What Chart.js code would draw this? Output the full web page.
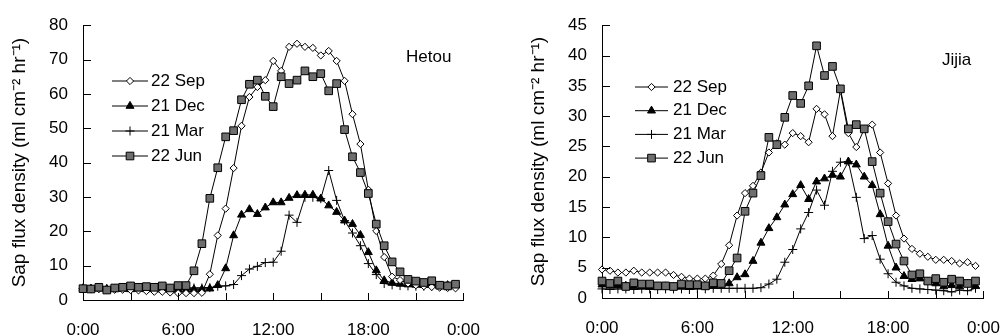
<!DOCTYPE html>
<html>
<head>
<meta charset="utf-8">
<script src="https://cdn.jsdelivr.net/npm/chart.js@4/dist/chart.umd.min.js"></script>
<style>
  html, body { margin: 0; padding: 0; background: #fff; }
  #wrap { position: relative; width: 1008px; height: 336px; overflow: hidden; }
  .panel { position: absolute; top: 0; height: 336px; }
  #left { left: 0; width: 500px; }
  #right { left: 490px; width: 530px; }
</style>
</head>
<body>
<div id="wrap">
  <div class="panel" id="left"><canvas id="hetou"></canvas></div>
  <div class="panel" id="right"><canvas id="jijia"></canvas></div>
</div>
<script>
// half-hour readings, 0:00 .. 23:30
var hours = [0, 0.5, 1, 1.5, 2, 2.5, 3, 3.5, 4, 4.5, 5, 5.5, 6, 6.5, 7, 7.5, 8, 8.5, 9, 9.5, 10, 10.5, 11, 11.5,
             12, 12.5, 13, 13.5, 14, 14.5, 15, 15.5, 16, 16.5, 17, 17.5, 18, 18.5, 19, 19.5, 20, 20.5, 21, 21.5, 22, 22.5, 23, 23.5];
var seriesNames = ['22 Sep', '21 Dec', '21 Mar', '22 Jun'];
var xTickLabels = ['0:00', '6:00', '12:00', '18:00', '0:00'];

// Hetou site
var hetouSep = [3.3, 3.3, 3.2, 3.1, 3.0, 3.0, 2.9, 2.8, 2.6, 2.4, 2.4, 2.2, 2.0, 2.0, 2.0, 2.1,
                7.5, 18.8, 26.6, 38.4, 50.7, 59.1, 62.0, 64.0, 69.6, 66.7, 73.7, 74.6, 73.7, 73.4, 71.2, 72.5,
                69.6, 63.8, 54.1, 45.4, 32.1, 20.1, 12.5, 6.8, 5.8, 4.8, 4.3, 4.0, 3.8, 3.6, 3.5, 3.4];
var hetouDec = [3.4, 3.3, 3.3, 3.2, 3.3, 3.2, 3.1, 3.2, 3.1, 3.2, 3.1, 3.0, 3.1, 3.0, 3.1, 3.1,
                3.3, 4.3, 9.2, 18.8, 24.8, 26.4, 25.0, 26.9, 28.4, 28.4, 29.7, 30.5, 30.6, 30.6, 29.5, 27.5,
                25.6, 23.1, 22.1, 18.9, 13.9, 8.6, 5.7, 5.0, 4.7, 4.5, 4.4, 4.3, 4.3, 4.2, 4.3, 4.2];
var hetouMar = [3.3, 3.3, 3.4, 3.2, 3.3, 3.3, 3.2, 3.3, 3.2, 3.3, 3.3, 3.2, 3.4, 3.4, 3.5, 3.5,
                3.6, 4.0, 4.1, 4.5, 7.1, 9.0, 9.8, 10.9, 11.0, 14.2, 24.7, 22.6, 29.9, 29.9, 29.5, 37.7,
                29.0, 23.1, 19.5, 15.8, 10.6, 7.4, 4.8, 4.4, 4.2, 4.1, 4.0, 4.0, 4.0, 3.9, 3.9, 3.9];
var hetouJun = [3.3, 3.2, 3.7, 2.9, 3.5, 3.7, 4.1, 3.7, 3.9, 3.7, 4.1, 3.5, 4.2, 4.2, 8.5, 16.4,
                29.6, 38.5, 47.5, 49.3, 58.3, 62.8, 64.0, 59.3, 56.3, 65.0, 63.0, 64.0, 66.7, 65.0, 65.9, 60.9,
                63.0, 49.6, 41.7, 37.1, 31.0, 22.1, 15.8, 11.1, 8.2, 6.0, 5.5, 5.1, 5.6, 4.3, 4.1, 4.6];

// Jijia site
var jijiaSep = [4.7, 4.5, 4.2, 4.2, 4.5, 4.2, 4.2, 4.2, 4.2, 3.8, 3.5, 3.2, 3.2, 3.2, 3.7, 5.6,
                8.7, 13.6, 17.3, 18.5, 20.7, 24.0, 25.5, 25.3, 27.2, 26.7, 25.7, 31.2, 30.3, 26.7, 34.2, 27.2,
                24.9, 27.9, 28.6, 24.0, 18.9, 13.6, 9.8, 8.1, 7.3, 6.8, 6.3, 6.3, 6.1, 5.7, 5.9, 5.3];
var jijiaDec = [2.2, 2.0, 2.1, 2.0, 1.9, 1.9, 1.8, 1.8, 1.9, 1.8, 1.9, 1.9, 2.0, 2.0, 2.1, 2.2,
                2.4, 3.4, 3.9, 6.1, 9.1, 11.5, 13.3, 15.4, 17.1, 18.6, 16.3, 19.2, 19.7, 20.3, 20.0, 22.5,
                22.0, 20.0, 18.6, 13.8, 8.6, 5.0, 3.6, 3.1, 3.2, 2.7, 2.4, 1.9, 2.1, 1.9, 2.3, 2.0];
var jijiaMar = [1.5, 1.4, 1.5, 1.5, 1.4, 1.5, 1.5, 1.4, 1.5, 1.5, 1.5, 1.4, 1.5, 1.5, 1.6, 1.6,
                1.6, 1.6, 1.6, 1.6, 1.7, 2.3, 3.1, 5.9, 8.0, 11.4, 14.1, 17.8, 15.3, 20.9, 22.4, 22.5,
                16.6, 9.8, 10.3, 6.4, 4.0, 2.6, 2.0, 1.6, 1.5, 1.4, 1.3, 1.2, 1.0, 1.3, 1.2, 1.6];
var jijiaJun = [2.8, 2.4, 2.8, 1.9, 2.5, 2.3, 2.3, 2.0, 2.0, 1.9, 2.3, 2.2, 2.2, 2.0, 2.5, 2.4,
                4.5, 6.6, 14.3, 17.3, 20.2, 26.5, 25.3, 29.8, 33.4, 32.1, 35.0, 41.6, 36.7, 38.2, 34.5, 27.9,
                28.6, 27.9, 22.5, 17.3, 12.6, 8.9, 6.1, 3.8, 4.0, 2.8, 3.2, 2.6, 3.1, 2.8, 2.4, 2.8];

var FONT = '"Liberation Sans", Arial, Helvetica, sans-serif';

// marker look per series (same order as seriesNames)
var markers = [
  { style: 'rectRot', radius: 3.6, fill: '#ffffff', order: 1 },
  { style: 'triangle', radius: 4.6, fill: '#000000', order: 2 },
  { style: 'cross', radius: 4.5, fill: '#000000', order: 3 },
  { style: 'rect', radius: 5.4, fill: '#6e6e6e', order: 0 }
];

// inward tick marks, legend inside the plot, site name
var decor = {
  id: 'decor',
  afterDraw: function (chart, args, o) {
    var ctx = chart.ctx;
    var area = chart.chartArea;
    var xs = chart.scales.x, ys = chart.scales.y;
    ctx.save();
    ctx.strokeStyle = '#000';
    ctx.lineWidth = 1;
    ctx.beginPath();
    xs.ticks.forEach(function (t) {
      var px = Math.round(xs.getPixelForValue(t.value)) + 0.5;
      ctx.moveTo(px, area.bottom);
      ctx.lineTo(px, area.bottom - 7);
    });
    ys.ticks.forEach(function (t) {
      var py = Math.round(ys.getPixelForValue(t.value)) + 0.5;
      ctx.moveTo(area.left, py);
      ctx.lineTo(area.left + 8, py);
    });
    ctx.stroke();

    ctx.font = '17px ' + FONT;
    ctx.textBaseline = 'middle';
    ctx.textAlign = 'left';
    chart.data.datasets.forEach(function (ds, k) {
      var y = o.legendY + k * o.legendGap;
      ctx.strokeStyle = '#000';
      ctx.beginPath();
      ctx.moveTo(o.legendX, y);
      ctx.lineTo(o.legendX + o.lineLen, y);
      ctx.stroke();
      ctx.fillStyle = ds.pointBackgroundColor;
      Chart.helpers.drawPoint(ctx, { pointStyle: ds.pointStyle, radius: ds.pointRadius, rotation: 0, borderWidth: 1 },
        o.legendX + o.lineLen / 2, y);
      ctx.fillStyle = '#000';
      ctx.fillText(ds.label, o.legendX + o.lineLen + o.textGap, y);
    });

    ctx.fillText(o.label, o.labelX, o.labelY);
    ctx.restore();
  }
};

function makeChart(id, series, yMax, yStep, box) {
  var datasets = series.map(function (vals, k) {
    var m = markers[k];
    return {
      label: seriesNames[k],
      data: vals.map(function (v, i) { return { x: hours[i], y: v }; }),
      order: m.order,
      borderColor: '#000',
      borderWidth: 1,
      pointStyle: m.style,
      pointRadius: m.radius,
      pointBackgroundColor: m.fill,
      pointBorderColor: '#000',
      pointBorderWidth: 1,
      tension: 0,
      clip: false
    };
  });

  var tickFont = { family: FONT, size: 17 };

  return new Chart(document.getElementById(id), {
    type: 'line',
    data: { datasets: datasets },
    options: {
      responsive: true,
      maintainAspectRatio: false,
      animation: false,
      layout: { padding: { left: 0, top: box.top, right: box.right, bottom: 0 } },
      plugins: {
        legend: { display: false },
        tooltip: { enabled: false },
        decor: box.decor
      },
      scales: {
        x: {
          type: 'linear',
          min: 0,
          max: 24,
          afterFit: function (s) { s.height = box.xHeight; },
          grid: { display: true, drawOnChartArea: false, drawTicks: false },
          border: { display: true, color: '#000', width: 1 },
          ticks: {
            stepSize: 3,
            autoSkip: false,
            maxRotation: 0,
            padding: 20,
            color: '#000',
            font: tickFont,
            callback: function (v) { return v % 6 === 0 ? xTickLabels[v / 6] : ''; }
          }
        },
        y: {
          min: 0,
          max: yMax,
          afterFit: function (s) { s.width = box.yWidth; },
          grid: { display: true, drawOnChartArea: false, drawTicks: false },
          border: { display: true, color: '#000', width: 1 },
          ticks: { stepSize: yStep, padding: 15, color: '#000', font: tickFont },
          title: {
            display: true,
            text: 'Sap flux density (ml cm\u207B\u00B2 hr\u207B\u00B9)',
            color: '#000',
            font: { family: FONT, size: 19 },
            padding: { top: box.titlePad, bottom: 0 }
          }
        }
      }
    },
    plugins: [decor]
  });
}

makeChart('hetou', [hetouSep, hetouDec, hetouMar, hetouJun], 80, 10, {
  top: 24, right: 26, yWidth: 83, xHeight: 36, titlePad: 8,
  decor: { legendX: 112, legendY: 81, legendGap: 25, lineLen: 36, textGap: 3, label: 'Hetou', labelX: 406, labelY: 57 }
});

makeChart('jijia', [jijiaSep, jijiaDec, jijiaMar, jijiaJun], 45, 5, {
  top: 23, right: 26, yWidth: 112, xHeight: 38, titlePad: 37,
  decor: { legendX: 145, legendY: 87, legendGap: 23.7, lineLen: 33, textGap: 5, label: 'Jijia', labelX: 452, labelY: 60 }
});
</script>
</body>
</html>
